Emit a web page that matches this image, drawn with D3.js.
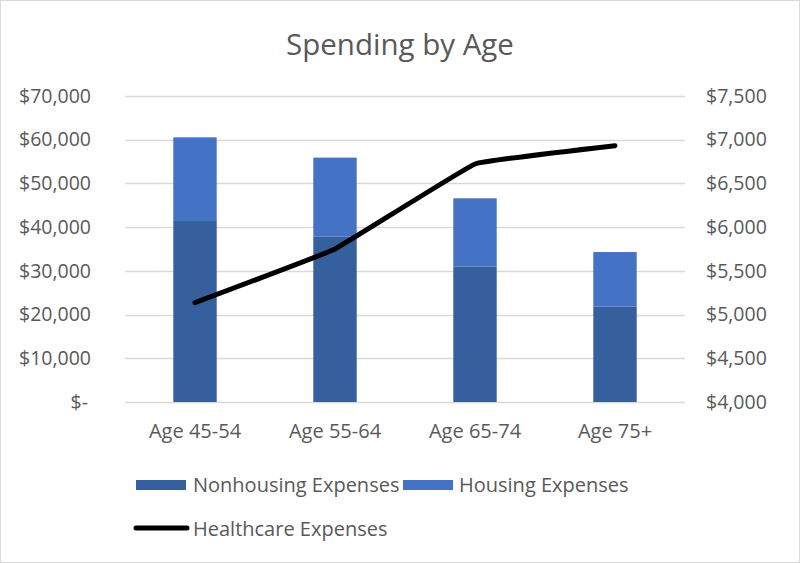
<!DOCTYPE html>
<html><head><meta charset="utf-8">
<script src="https://cdn.jsdelivr.net/npm/d3@7"></script>
<style>
html,body{margin:0;padding:0;background:#fff;}
svg{display:block;font-family:"Open Sans",sans-serif;}
</style></head>
<body>
<svg id="c" width="800" height="563"></svg>
<script>
const categories = ["Age 45-54","Age 55-64","Age 65-74","Age 75+"];
const nonhousing = [41400, 37800, 31000, 21800];
const housing = [19150, 18100, 15600, 12500];
const healthcare = [5136, 5750, 6722, 6932];
const leftTicks = [0,10000,20000,30000,40000,50000,60000,70000];
const rightTicks = [4000,4500,5000,5500,6000,6500,7000,7500];
const seriesNames = ["Nonhousing Expenses","Housing Expenses","Healthcare Expenses"];

const svg = d3.select("#c");
const W = 800, H = 563;
const gray = "#595959";
svg.append("rect").attr("x",0.5).attr("y",0.5).attr("width",W-1).attr("height",H-1)
  .attr("fill","#fff").attr("stroke","#d9d9d9");

const x = d3.scaleBand().domain(categories).range([125,685]).paddingInner(0.69).paddingOuter(0.345);
const yL = d3.scaleLinear().domain([0,70000]).range([402,96]);
const yR = d3.scaleLinear().domain([4000,7500]).range([402,96]);

svg.append("text").attr("x",400).attr("y",55).attr("text-anchor","middle")
  .attr("font-size",29.5).attr("fill",gray).text("Spending by Age");

// gridlines
svg.append("g").selectAll("line").data(leftTicks).join("line")
  .attr("x1",125).attr("x2",685).attr("y1",d=>Math.round(yL(d))+0.5).attr("y2",d=>Math.round(yL(d))+0.5)
  .attr("stroke","#d9d9d9").attr("stroke-width",1.5);

// left axis
const fmtL = d => d===0 ? "$-" : "$"+d3.format(",")(d);
const axL = d3.axisLeft(yL).tickValues(leftTicks).tickFormat(fmtL).tickSize(0).tickPadding(0);
const gL = svg.append("g").attr("transform","translate(91,0)").call(axL);
gL.select(".domain").remove();
gL.selectAll("text").attr("font-size",19.5).attr("fill",gray).attr("font-family","Open Sans")
  .attr("dx",d=>d===0?-3:0);

const fmtR = d => "$"+d3.format(",")(d);
const axR = d3.axisRight(yR).tickValues(rightTicks).tickFormat(fmtR).tickSize(0).tickPadding(0);
const gR = svg.append("g").attr("transform","translate(706,0)").call(axR);
gR.select(".domain").remove();
gR.selectAll("text").attr("font-size",19.5).attr("fill",gray).attr("font-family","Open Sans");

// x axis
const axX = d3.axisBottom(x).tickSize(0).tickPadding(0);
const gX = svg.append("g").attr("transform","translate(0,424)").call(axX);
gX.select(".domain").remove();
gX.selectAll("text").attr("font-size",20).attr("fill",gray).attr("font-family","Open Sans");

// bars
const c1 = "#365f9e", c2 = "#4472c4";
svg.append("g").selectAll("rect").data(categories).join("rect")
  .attr("x",d=>x(d)).attr("width",x.bandwidth())
  .attr("y",(d,i)=>yL(nonhousing[i])).attr("height",(d,i)=>yL(0)-yL(nonhousing[i]))
  .attr("fill",c1);
svg.append("g").selectAll("rect").data(categories).join("rect")
  .attr("x",d=>x(d)).attr("width",x.bandwidth())
  .attr("y",(d,i)=>yL(nonhousing[i]+housing[i])).attr("height",(d,i)=>yL(nonhousing[i])-yL(nonhousing[i]+housing[i]))
  .attr("fill",c2);

// line
const line = d3.line().x((d,i)=>x(categories[i])+x.bandwidth()/2).y(d=>yR(d)).curve(d3.curveCardinal.tension(0.8));
svg.append("path").datum(healthcare).attr("d",line).attr("fill","none")
  .attr("stroke","#000").attr("stroke-width",5).attr("stroke-linecap","round").attr("stroke-linejoin","round");

// legend
const lg = svg.append("g").attr("font-size",20).attr("fill",gray);
lg.append("rect").attr("x",136).attr("y",480).attr("width",50).attr("height",10).attr("fill",c1);
lg.append("text").attr("x",193).attr("y",492).attr("fill",gray).text(seriesNames[0]);
lg.append("rect").attr("x",403).attr("y",480).attr("width",50).attr("height",10).attr("fill",c2);
lg.append("text").attr("x",459).attr("y",492).attr("fill",gray).text(seriesNames[1]);
lg.append("line").attr("x1",136).attr("x2",187).attr("y1",528).attr("y2",528)
  .attr("stroke","#000").attr("stroke-width",5).attr("stroke-linecap","round");
lg.append("text").attr("x",193).attr("y",536).attr("fill",gray).text(seriesNames[2]);
</script>
</body></html>
